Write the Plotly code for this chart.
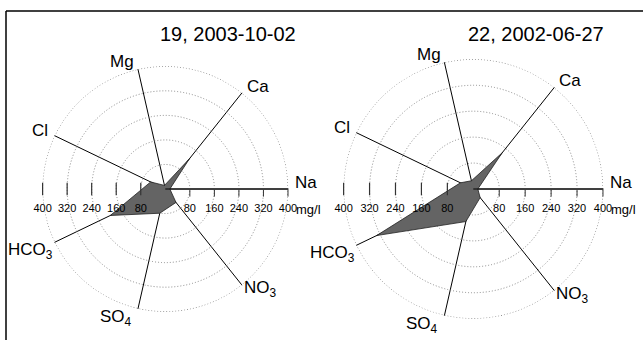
import math
import plotly.graph_objects as go

# ---- data ----
constituents = ["Na", "Ca", "Mg", "Cl", "HCO3", "SO4", "NO3"]
axis_labels = ["Na", "Ca", "Mg", "Cl", "HCO<sub>3</sub>", "SO<sub>4</sub>", "NO<sub>3</sub>"]
titles = ["19, 2003-10-02", "22, 2002-06-27"]
sample_19 = [15, 126, 12, 53, 199, 81, 56]
sample_22 = [14, 143, 26, 44, 331, 103, 34]
tick_values = [80, 160, 240, 320, 400]
tick_labels = ["80", "160", "240", "320", "400"]
unit_label = "mg/l"
r_max = 400

# label placement relative to spoke end (anchor, xshift px, yshift px)
label_style = [("left", 5, 6.5), ("left", 3, 6.5), ("right", -1.5, 8), ("right", -4.5, 5.5),
               ("right", 0.5, -8.5), ("right", -4, -9), ("left", 0, -4)]

n = len(constituents)
angles = [i * 360.0 / n for i in range(n)]
circle_theta = list(range(0, 361, 2))

W, H = 643, 340
# polar placement (center px, radius px)
polars = [
    dict(cx=165.3, cy=189, r=123, title_x=228),
    dict(cx=473.3, cy=189, r=130, title_x=536),
]
samples = [sample_19, sample_22]

fig = go.Figure()
FONT = "Liberation Sans, Arial, sans-serif"
CLEAR = "rgba(0,0,0,0)"

for k, (p, vals) in enumerate(zip(polars, samples)):
    pname = "polar" if k == 0 else "polar2"
    sub = pname
    # outer dotted circle (grid)
    fig.add_trace(go.Scatterpolar(
        r=[r_max] * len(circle_theta), theta=circle_theta, mode="lines",
        line=dict(color="#8a8a8a", width=1, dash="1px,2px"),
        subplot=sub, showlegend=False, hoverinfo="skip"))
    # data polygon
    fig.add_trace(go.Scatterpolar(
        r=vals + [vals[0]], theta=angles + [angles[0]],
        mode="lines", fill="toself", fillcolor="#646464",
        line=dict(color="#222222", width=0.8),
        subplot=sub, showlegend=False, hoverinfo="skip"))
    # left-side ticks
    fig.add_trace(go.Scatterpolar(
        r=tick_values, theta=[180] * len(tick_values), mode="markers",
        marker=dict(symbol="line-ns", size=9, line=dict(color="#333333", width=1.2)),
        subplot=sub, showlegend=False, hoverinfo="skip"))
    # tick labels both sides
    for th in (0, 180):
        fig.add_trace(go.Scatterpolar(
            r=tick_values, theta=[th] * len(tick_values), mode="markers+text",
            marker=dict(size=22, color=CLEAR),
            text=tick_labels, textposition="bottom center",
            textfont=dict(size=11, color="black", family=FONT),
            subplot=sub, showlegend=False, hoverinfo="skip", cliponaxis=False))
    x0 = (p["cx"] - p["r"]) / W
    x1 = (p["cx"] + p["r"]) / W
    y0 = 1 - (p["cy"] + p["r"]) / H
    y1 = 1 - (p["cy"] - p["r"]) / H
    fig.update_layout(**{pname: dict(
        domain=dict(x=[x0, x1], y=[y0, y1]),
        bgcolor="white",
        radialaxis=dict(range=[0, r_max + 1], tickvals=tick_values, showticklabels=False,
                        ticks="outside", ticklen=7, tickcolor="#333333", tickwidth=1.2,
                        showline=True, linecolor="black", linewidth=1.2, angle=0,
                        side="clockwise",
                        showgrid=True, gridcolor="#8a8a8a", griddash="1px,2px", gridwidth=1,
                        layer="above traces"),
        angularaxis=dict(tickmode="array", tickvals=angles, ticktext=[""] * n,
                         direction="counterclockwise", rotation=0, thetaunit="degrees",
                         showline=False, ticks="", showgrid=True, gridcolor="black",
                         gridwidth=1, showticklabels=False,
                         layer="above traces"),
    )})
    # constituent labels at the spoke ends
    for lab, ang, (anc, xs, ys) in zip(axis_labels, angles, label_style):
        ex = p["cx"] + p["r"] * math.cos(math.radians(ang))
        ey = p["cy"] - p["r"] * math.sin(math.radians(ang))
        fig.add_annotation(x=ex / W, y=1 - ey / H, xref="paper", yref="paper",
                           text=lab, showarrow=False, xanchor=anc, yanchor="middle",
                           xshift=xs, yshift=ys,
                           font=dict(size=17, color="black", family=FONT))
    # unit label
    fig.add_annotation(x=(p["cx"] + p["r"] + 6) / W, y=1 - (p["cy"] + 20) / H,
                       xref="paper", yref="paper", text=unit_label, showarrow=False,
                       xanchor="left", yanchor="middle",
                       font=dict(size=13, color="black", family=FONT))
    # title
    fig.add_annotation(x=p["title_x"] / W, y=1 - 34 / H, xref="paper", yref="paper",
                       text=titles[k], showarrow=False, xanchor="center", yanchor="middle",
                       font=dict(size=20, color="black", family=FONT))

# frame
fig.add_shape(type="line", xref="paper", yref="paper", x0=6 / W, x1=1.0,
              y0=1 - 11 / H, y1=1 - 11 / H, line=dict(color="black", width=1.5))
fig.add_shape(type="line", xref="paper", yref="paper", x0=6 / W, x1=6 / W,
              y0=0, y1=1 - 11 / H, line=dict(color="black", width=1.5))

fig.update_layout(width=W, height=H, margin=dict(l=0, r=0, t=0, b=0),
                  paper_bgcolor="white", plot_bgcolor="white",
                  font=dict(family=FONT))
fig.write_html("out.html", config={"displayModeBar": False},
               post_script="document.body.style.margin='0';document.body.style.overflow='hidden';")
